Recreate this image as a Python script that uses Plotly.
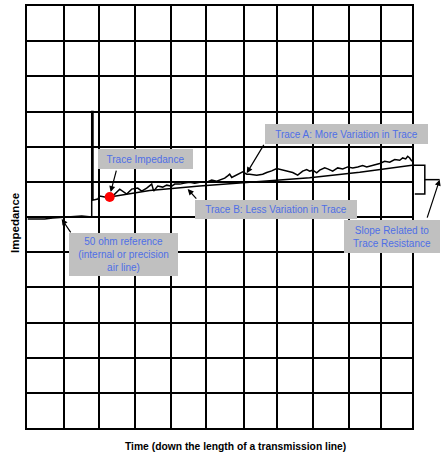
import plotly.graph_objects as go

# ---- axis extents (screen divisions) and grid positions ----
X_MAX = 11
Y_MAX = 12
x_grid = [1.057, 2.049, 3.086, 4.114, 5.106, 6.191, 7.154, 8.183, 9.191, 10.106]
y_grid = list(range(0, 13))

# ---- 50 ohm reference + launch spike ----
ref_time = [0.02, 0.506, 0.734, 1.077, 1.563, 1.849, 1.849, 1.885, 1.885, 2.02, 2.077, 2.22, 2.363]
ref_imp = [5.944, 5.944, 5.972, 6.0, 6.029, 6.0, 9.0, 9.0, 6.48, 6.51, 6.595, 6.567, 6.567]

# ---- Trace A: more variation ----
a_time = [2.363, 2.449, 2.649, 2.849, 2.991, 3.163, 3.277, 3.42, 3.563, 3.62, 3.734, 3.877, 3.991,
          4.134, 4.22, 4.363, 4.506, 4.649, 4.791, 4.934, 5.134, 5.277, 5.42, 5.506, 5.649, 5.734,
          5.791, 5.849, 5.934, 6.02, 6.163, 6.277, 6.363, 6.563, 6.734, 6.849, 6.991, 7.134, 7.277,
          7.42, 7.591, 7.734, 7.877, 7.991, 8.077, 8.163, 8.277, 8.363, 8.506, 8.591, 8.734, 8.877,
          9.02, 9.163, 9.306, 9.449, 9.591, 9.706, 9.791, 9.934, 10.077, 10.22, 10.363, 10.506,
          10.649, 10.734, 10.82, 10.877, 10.934, 11.0]
a_imp = [6.567, 6.595, 6.793, 6.652, 6.793, 6.821, 6.736, 6.821, 6.935, 6.736, 6.878, 6.85, 6.906,
         6.878, 6.935, 6.935, 6.963, 6.991, 6.963, 6.991, 6.991, 7.048, 7.02, 7.056, 7.104, 7.17,
         7.218, 7.124, 7.17, 7.218, 7.283, 7.218, 7.218, 7.189, 7.218, 7.266, 7.311, 7.379, 7.339,
         7.311, 7.266, 7.189, 7.303, 7.351, 7.303, 7.331, 7.255, 7.331, 7.396, 7.368, 7.303, 7.396,
         7.368, 7.424, 7.396, 7.424, 7.464, 7.424, 7.444, 7.492, 7.521, 7.586, 7.557, 7.634,
         7.614, 7.679, 7.651, 7.727, 7.679, 7.586]

# ---- Trace B: less variation ----
b_time = [2.363, 3.506, 4.934, 6.363, 8.077, 9.506, 11.0]
b_imp = [6.567, 6.751, 6.878, 6.991, 7.119, 7.274, 7.472]

# ---- trace impedance marker ----
dot_time = [2.363]
dot_imp = [6.567]

# ---- slope bracket (right of the screen) ----
bracket_time = [11.0, 11.366, 11.366, 11.08]
bracket_imp = [7.472, 7.472, 6.652, 6.652]
notch_time = [11.366, 11.79]
notch_imp = [7.062, 7.062]

# ---- callouts: text, box centre, box size, arrow tail, arrow head ----
callouts = [
    dict(text="Trace Impedance", x=3.377, y=7.642, w=95, h=20,
         tail=(2.563, 7.359), head=(2.391, 6.708)),
    dict(text="50 ohm reference<br>(internal or precision<br>air line)", x=2.749, y=4.939, w=109, h=43,
         tail=(1.277, 5.519), head=(0.991, 5.944)),
    dict(text="Trace A: More Variation in Trace", x=9.12, y=8.35, w=163, h=20,
         tail=(6.791, 8.095), head=(6.277, 7.246)),
    dict(text="Trace B: Less Variation in Trace", x=7.106, y=6.213, w=162, h=19,
         tail=(4.877, 6.482), head=(4.591, 6.793)),
    dict(text="Slope Related to<br>Trace Resistance", x=10.42, y=5.449, w=96, h=33,
         tail=(11.42, 5.944), head=(11.79, 7.062)),
]

W, H = 445, 457
ML, MR, MT, MB = 27, 33, 4, 29
PX_X = (W - ML - MR) / X_MAX
PX_Y = (H - MT - MB) / Y_MAX

FONT = "Liberation Sans, Arial, Helvetica, sans-serif"
BOX = "#c0c0c0"
BLUE = "#4f6fe6"

fig = go.Figure()
line = dict(color="black", width=1.5)
fig.add_trace(go.Scatter(x=ref_time, y=ref_imp, mode="lines", line=line, hoverinfo="skip"))
fig.add_trace(go.Scatter(x=b_time, y=b_imp, mode="lines", line=line, hoverinfo="skip"))
fig.add_trace(go.Scatter(x=a_time, y=a_imp, mode="lines", line=line, hoverinfo="skip"))
fig.add_trace(go.Scatter(x=dot_time, y=dot_imp, mode="markers",
                         marker=dict(color="#ff0000", size=10, line=dict(width=0)), hoverinfo="skip"))

# bracket outside the plot area (x in paper units so it is not clipped)
def px(t):
    return t / X_MAX

path = "M {},{} L {},{} L {},{} L {},{}".format(
    px(bracket_time[0]), bracket_imp[0], px(bracket_time[1]), bracket_imp[1],
    px(bracket_time[2]), bracket_imp[2], px(bracket_time[3]), bracket_imp[3])
fig.add_shape(type="path", path=path, xref="paper", yref="y", line=dict(color="black", width=1.5))
fig.add_shape(type="line", xref="paper", yref="y", x0=px(notch_time[0]), x1=px(notch_time[1]),
              y0=notch_imp[0], y1=notch_imp[1], line=dict(color="black", width=1.5))

for c in callouts:
    fig.add_annotation(x=c["x"], y=c["y"], xref="x", yref="y", text=c["text"], showarrow=False,
                       xanchor="center", yanchor="middle", align="center",
                       width=c["w"], height=c["h"], bgcolor=BOX, borderpad=0, borderwidth=0,
                       font=dict(family=FONT, size=10, color=BLUE))
    hx, hy = c["head"]
    tx, ty = c["tail"]
    if hx <= X_MAX and tx <= X_MAX:
        fig.add_annotation(x=hx, y=hy, xref="x", yref="y", ax=tx, ay=ty, axref="x", ayref="y",
                           text="", showarrow=True, arrowhead=2, arrowsize=1, arrowwidth=1.2,
                           arrowcolor="black", standoff=0, startstandoff=0)
    else:
        fig.add_annotation(x=px(hx), y=hy, xref="paper", yref="y",
                           ax=(tx - hx) * PX_X, ay=-(ty - hy) * PX_Y,
                           text="", showarrow=True, arrowhead=2, arrowsize=1, arrowwidth=1.2,
                           arrowcolor="black", standoff=0, startstandoff=0)

# axis titles
fig.add_annotation(x=(15 - ML) / (W - ML - MR), y=0.486, xref="paper", yref="paper",
                   text="<b>Impedance</b>", textangle=-90, showarrow=False,
                   xanchor="center", yanchor="middle",
                   font=dict(family=FONT, size=11.5, color="black"))
fig.add_annotation(x=0.542, y=-0.045, xref="paper", yref="paper",
                   text="<b>Time (down the length of a transmission line)</b>", showarrow=False,
                   xanchor="center", yanchor="middle",
                   font=dict(family=FONT, size=10.3, color="black"))

fig.update_xaxes(range=[0, X_MAX], tickvals=x_grid, showticklabels=False, ticks="",
                 showgrid=True, gridcolor="black", gridwidth=2, zeroline=False,
                 showline=True, linecolor="black", linewidth=2, mirror=True, fixedrange=True)
fig.update_yaxes(range=[0, Y_MAX], tickvals=y_grid, showticklabels=False, ticks="",
                 showgrid=True, gridcolor="black", gridwidth=2, zeroline=False,
                 showline=True, linecolor="black", linewidth=2, mirror=True, fixedrange=True)

fig.update_layout(width=W, height=H, margin=dict(l=ML, r=MR, t=MT, b=MB),
                  plot_bgcolor="white", paper_bgcolor="white", showlegend=False,
                  font=dict(family=FONT))

fig.write_html("out.html", config={"displayModeBar": False},
               post_script="document.body.style.margin='0';document.body.style.padding='0';")
